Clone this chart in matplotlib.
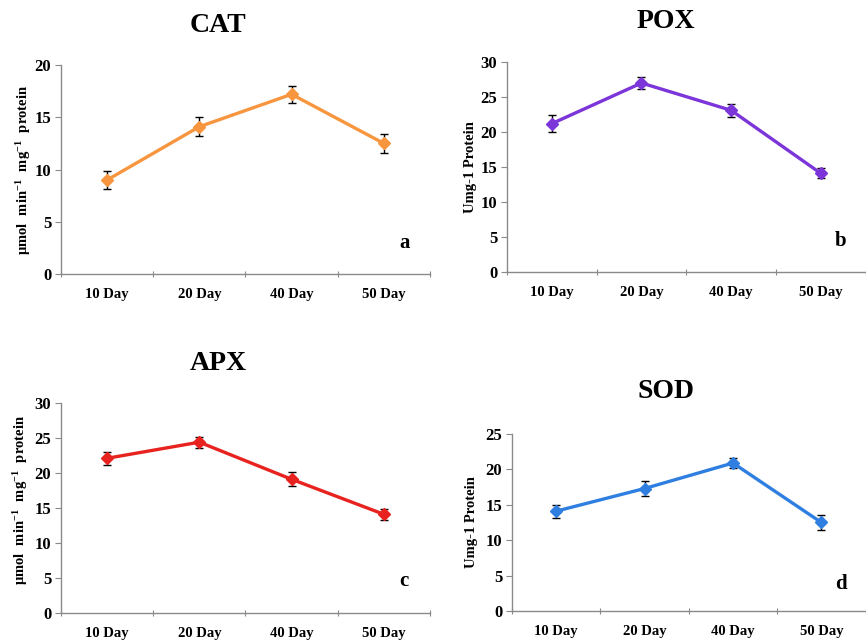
import numpy as np
import matplotlib
matplotlib.use('Agg')
import matplotlib.pyplot as plt

plt.rcParams['font.family'] = ['Liberation Serif', 'DejaVu Serif']
plt.rcParams['font.weight'] = 'bold'
plt.rcParams['mathtext.fontset'] = 'custom'
plt.rcParams['mathtext.rm'] = 'Liberation Serif:bold'
plt.rcParams['mathtext.it'] = 'Liberation Serif:bold'
plt.rcParams['mathtext.bf'] = 'Liberation Serif:bold'

days = ['10 Day', '20 Day', '40 Day', '50 Day']

cat_vals = [9.0, 14.1, 17.2, 12.5]
cat_err = [0.9, 0.9, 0.8, 0.9]
pox_vals = [21.2, 27.0, 23.1, 14.1]
pox_err = [1.2, 0.8, 0.9, 0.7]
apx_vals = [22.1, 24.4, 19.1, 14.1]
apx_err = [0.9, 0.8, 1.0, 0.8]
sod_vals = [14.1, 17.3, 20.9, 12.5]
sod_err = [0.9, 1.0, 0.7, 1.0]

umol_label = r'$\mathrm{\mu mol\ \ min^{-1}\ \ mg^{-1}\ \ protein}$'
unit_label = 'Umg-1 Protein'

panels = [
    # title, values, errors, colour, ymax, ylabel, letter, axes rect, label coords
    ('CAT', cat_vals, cat_err, '#F7963E', 20, umol_label, 'a',
     [0.0704, 0.5732, 0.4261, 0.3255], (-0.075, 0.5)),
    ('POX', pox_vals, pox_err, '#7B35D9', 30, unit_label, 'b',
     [0.5855, 0.5763, 0.4140, 0.3271], (-0.083, 0.5)),
    ('APX', apx_vals, apx_err, '#E8231F', 30, umol_label, 'c',
     [0.0704, 0.0452, 0.4261, 0.3271], (-0.083, 0.54)),
    ('SOD', sod_vals, sod_err, '#2F7FE0', 25, unit_label, 'd',
     [0.5912, 0.0483, 0.4083, 0.2757], (-0.095, 0.5)),
]
title_y = [25, 22, 363, 391]
title_x = [218, 666, 218, 666]

fig = plt.figure(figsize=(8.66, 6.42), dpi=100)
x = np.arange(1, len(days) + 1)

for (title, vals, errs, col, ymax, ylab, letter, rect, lab_xy), tx, ty in zip(panels, title_x, title_y):
    ax = fig.add_axes(rect)
    ax.errorbar(x, vals, yerr=errs, fmt='none', ecolor='black', elinewidth=1,
                capsize=3, capthick=1, zorder=2)
    ax.plot(x, vals, color=col, lw=2.4, marker='D', ms=6, zorder=3)
    ax.set_xlim(0.5, len(days) + 0.5)
    ax.set_ylim(0, ymax)
    ax.set_yticks(np.arange(0, ymax + 1, 5))
    ax.set_xticks(np.arange(0.5, len(days) + 1, 1))
    ax.set_xticklabels([])
    ax.set_xticks(x, minor=True)
    ax.set_xticklabels(days, minor=True)
    ax.tick_params(axis='x', which='minor', length=0, pad=10, labelsize=10.5)
    ax.tick_params(axis='x', which='major', length=4, direction='inout', color='#8a8a8a')
    ax.tick_params(axis='y', length=4, color='#8a8a8a', labelsize=12, pad=3)
    for s in ['top', 'right']:
        ax.spines[s].set_visible(False)
    for s in ['left', 'bottom']:
        ax.spines[s].set_color('#8a8a8a')
        ax.spines[s].set_linewidth(1)
    ax.set_ylabel(ylab, fontsize=10.5, fontweight='bold')
    ax.yaxis.set_label_coords(*lab_xy)
    ax.text(0.93, 0.15, letter, transform=ax.transAxes, fontsize=15,
            fontweight='bold', ha='center', va='center')
    fig.text(tx / 866, 1 - ty / 642, title, fontsize=20, fontweight='bold',
             ha='center', va='center')

fig.savefig('out.png', dpi=100)
